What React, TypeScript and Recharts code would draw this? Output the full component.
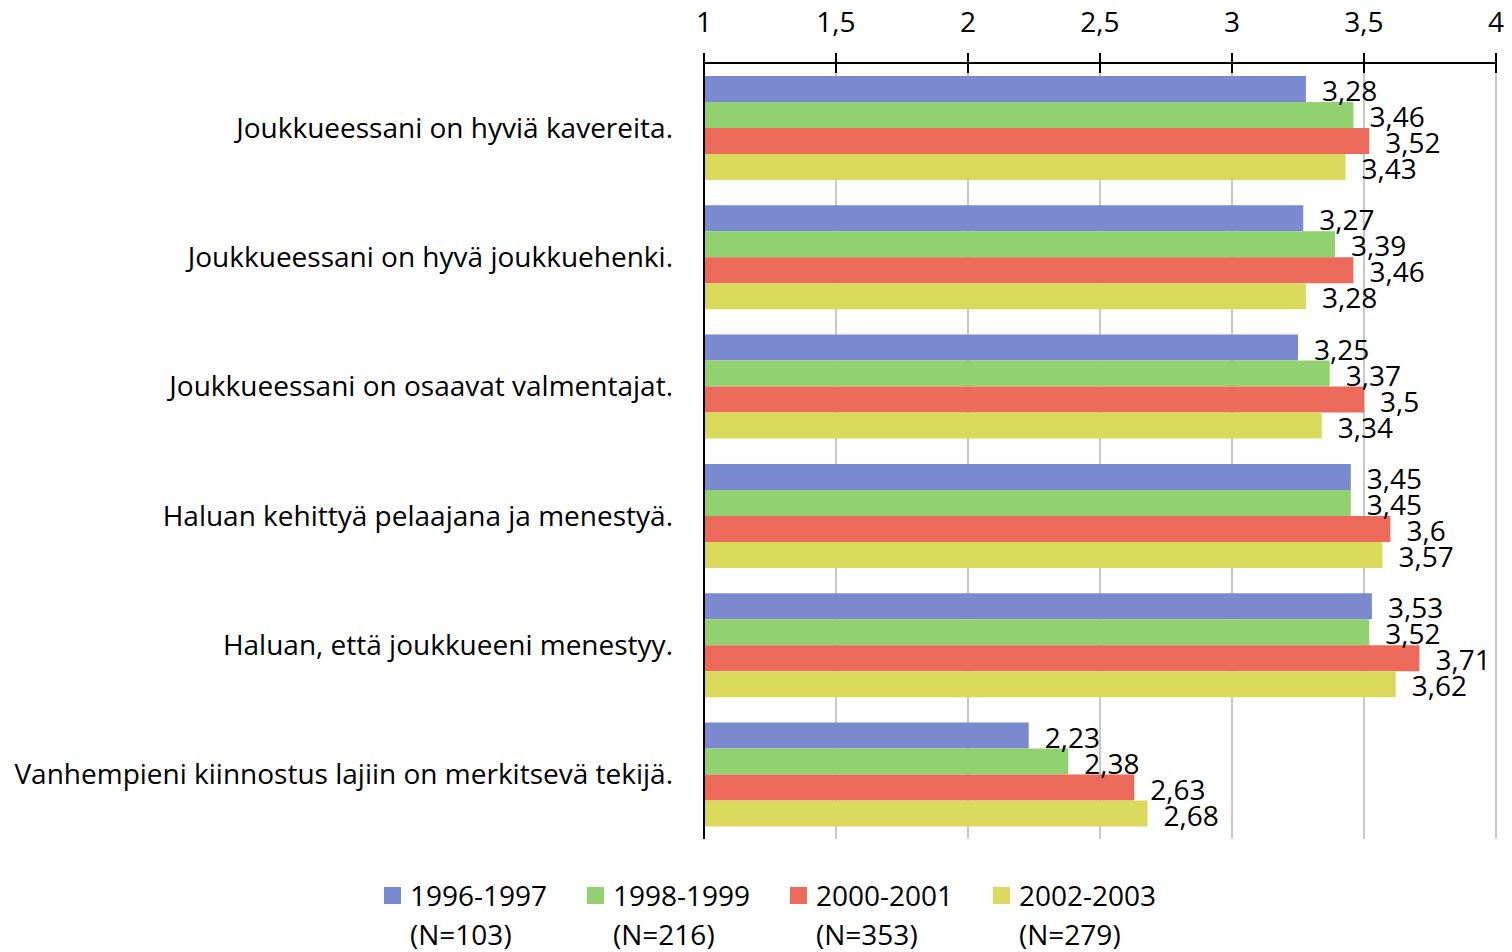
import React from "react";
import { BarChart, Bar, XAxis, YAxis, CartesianGrid, LabelList } from "recharts";

const categories = [
  "Joukkueessani on hyviä kavereita.",
  "Joukkueessani on hyvä joukkuehenki.",
  "Joukkueessani on osaavat valmentajat.",
  "Haluan kehittyä pelaajana ja menestyä.",
  "Haluan, että joukkueeni menestyy.",
  "Vanhempieni kiinnostus lajiin on merkitsevä tekijä.",
];
const s1996 = [3.28, 3.27, 3.25, 3.45, 3.53, 2.23];
const s1998 = [3.46, 3.39, 3.37, 3.45, 3.52, 2.38];
const s2000 = [3.52, 3.46, 3.5, 3.6, 3.71, 2.63];
const s2002 = [3.43, 3.28, 3.34, 3.57, 3.62, 2.68];
const seriesNames = ["1996-1997", "1998-1999", "2000-2001", "2002-2003"];
const seriesN = ["(N=103)", "(N=216)", "(N=353)", "(N=279)"];
const seriesKeys = ["a", "b", "c", "d"];
const colors = ["#7B8ACE", "#92D170", "#EC6A59", "#D9D95C"];
const xTicks = [1, 1.5, 2, 2.5, 3, 3.5, 4];

const data = categories.map((name, i) => ({
  name,
  a: s1996[i],
  b: s1998[i],
  c: s2000[i],
  d: s2002[i],
}));

const FONT = "'Open Sans', sans-serif";
const fmt = (v: number) => String(v).replace(".", ",");

const XTick = (props: any) => {
  const { x, y, payload } = props;
  const axisY = y + 30;
  return (
    <g>
      <line x1={x} x2={x} y1={axisY - 10} y2={axisY + 10} stroke="#000" strokeWidth={2} />
      <text x={x} y={axisY - 31} textAnchor="middle" fontFamily={FONT} fontSize={28} fill="#000">
        {fmt(payload.value)}
      </text>
    </g>
  );
};

const YTick = (props: any) => {
  const { x, y, payload } = props;
  return (
    <text x={x} y={y} dy={10} textAnchor="end" fontFamily={FONT} fontSize={28} fill="#000">
      {payload.value}
    </text>
  );
};

const ValueLabel = (props: any) => {
  const { x, y, width, height, value } = props;
  return (
    <text
      x={x + width + 16}
      y={y + height / 2 + 12}
      textAnchor="start"
      fontFamily={FONT}
      fontSize={28}
      fill="#000"
    >
      {fmt(value)}
    </text>
  );
};

export default function App() {
  return (
    <div style={{ position: "absolute", left: 0, top: 0, width: 1512, height: 952, background: "#fff" }}>
      <BarChart
        width={1512}
        height={952}
        data={data}
        layout="vertical"
        margin={{ top: 23, right: 16, bottom: 113, left: 0 }}
        barCategoryGap="10%"
        barGap={0}
      >
        <CartesianGrid horizontal={false} vertical={true} stroke="#C8C8C8" strokeWidth={2} />
        <XAxis
          type="number"
          orientation="top"
          domain={[1, 4]}
          ticks={xTicks}
          interval={0}
          height={40}
          tickSize={10}
          tickMargin={20}
          tickLine={false}
          axisLine={{ stroke: "#000", strokeWidth: 2 }}
          tick={<XTick />}
          allowDataOverflow
        />
        <YAxis
          type="category"
          dataKey="name"
          width={704}
          tickSize={0}
          tickMargin={31}
          tickLine={false}
          axisLine={{ stroke: "#000", strokeWidth: 2 }}
          tick={<YTick />}
          interval={0}
        />
        {seriesKeys.map((k, i) => (
          <Bar key={k} dataKey={k} name={seriesNames[i]} fill={colors[i]} isAnimationActive={false}>
            <LabelList dataKey={k} content={<ValueLabel />} />
          </Bar>
        ))}
      </BarChart>
      <div
        style={{
          position: "absolute",
          left: 384,
          top: 876,
          display: "flex",
          fontFamily: FONT,
          fontSize: 28,
          lineHeight: "39px",
          color: "#000",
        }}
      >
        {seriesNames.map((n, i) => (
          <div key={n} style={{ width: 203, display: "flex", alignItems: "flex-start" }}>
            <div style={{ width: 17, height: 17, background: colors[i], marginTop: 11, marginRight: 9 }} />
            <div>
              <div>{n}</div>
              <div>{seriesN[i]}</div>
            </div>
          </div>
        ))}
      </div>
    </div>
  );
}
